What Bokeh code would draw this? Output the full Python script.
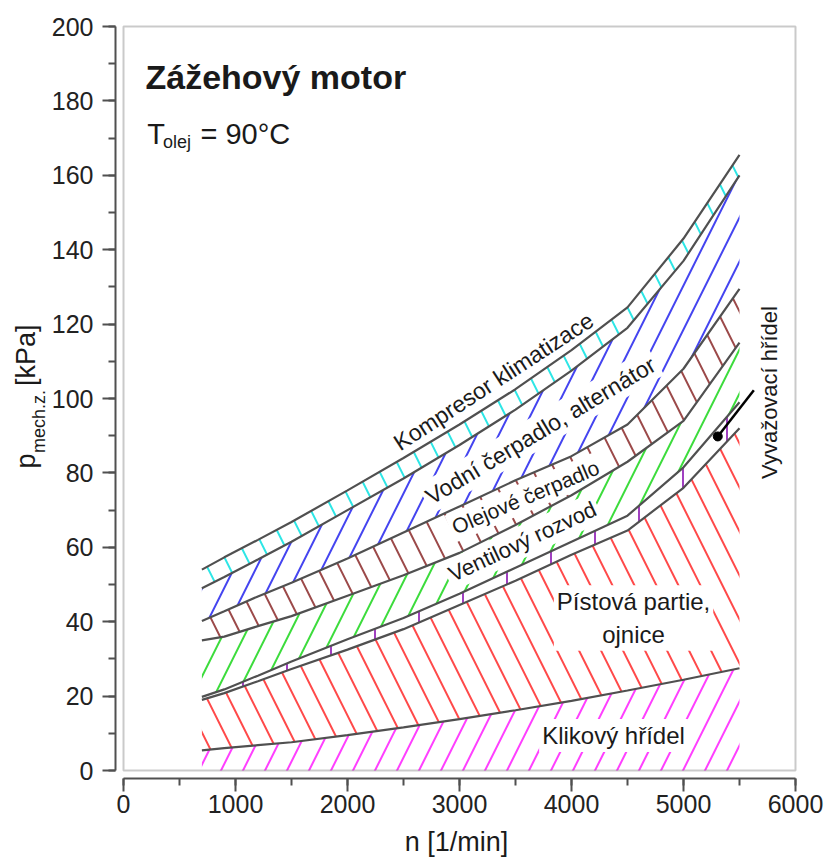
import math
from bokeh.plotting import figure
from bokeh.models import Range1d, Label, BoxAnnotation, SingleIntervalTicker, Title
from bokeh.embed import file_html
from bokeh.resources import INLINE

# ---- data ----
rpm = [700, 900, 1200, 1500, 2000, 2500, 3000, 3500, 4000, 4500, 5000, 5500]
zero_line = [0.0] * len(rpm)
klikovy_hridel = [5.4, 6.0, 6.8, 7.6, 9.5, 11.6, 13.8, 16.2, 18.7, 21.5, 24.4, 27.5]
pistova_partie = [19.0, 20.8, 24.0, 27.3, 32.5, 38.0, 44.5, 51.0, 58.0, 64.5, 76.0, 92.0]
vyvazovaci_hridel = [19.8, 21.8, 25.5, 29.3, 35.3, 41.0, 47.5, 54.5, 61.5, 68.5, 81.5, 99.0]
ventilovy_rozvod = [35.0, 36.0, 38.8, 41.5, 47.0, 52.5, 58.5, 66.0, 74.0, 83.0, 94.0, 115.0]
olejove_cerpadlo = [40.2, 42.8, 46.8, 50.5, 57.0, 64.0, 71.0, 78.0, 84.5, 93.0, 108.0, 129.5]
vodni_cerpadlo = [49.0, 52.0, 56.7, 61.5, 70.0, 78.5, 87.5, 97.0, 107.5, 119.0, 137.0, 160.0]
kompresor = [54.0, 57.3, 62.0, 66.8, 75.3, 84.0, 93.0, 102.5, 113.0, 124.5, 143.0, 165.5]

leader_x = [5306, 5628]
leader_y = [89.8, 102.2]

x_ticks_interval = 1000
y_ticks_interval = 20

FONT = "Liberation Sans"
LINE = "#505050"
TXT = "#1a1a1a"
NB = "\u00a0"

p = figure(width=824, height=859,
           x_range=Range1d(-71.4, 6017.9), y_range=Range1d(-2.15, 200.54),
           output_backend="svg", toolbar_location=None,
           min_border_left=115, min_border_right=27,
           min_border_top=24, min_border_bottom=81)
p.outline_line_color = None
p.grid.visible = False
p.background_fill_color = "white"

# axes
p.xaxis.bounds = (0, 6000)
p.yaxis.bounds = (0, 200)
p.xaxis.ticker = SingleIntervalTicker(interval=x_ticks_interval, num_minor_ticks=2)
p.yaxis.ticker = SingleIntervalTicker(interval=y_ticks_interval, num_minor_ticks=2)
for ax in (p.xaxis, p.yaxis):
    ax.axis_line_color = LINE
    ax.axis_line_width = 2
    ax.major_tick_line_color = LINE
    ax.major_tick_line_width = 2
    ax.minor_tick_line_color = LINE
    ax.minor_tick_line_width = 2
    ax.major_tick_in = 0
    ax.minor_tick_in = 0
    ax.major_tick_out = 13
    ax.minor_tick_out = 7
    ax.major_label_text_font = FONT
    ax.major_label_text_font_size = "25px"
    ax.major_label_text_color = "#222222"
    ax.axis_label_text_font = FONT
    ax.axis_label_text_font_style = "normal"
    ax.axis_label_text_color = TXT
p.xaxis.major_label_standoff = 3
p.yaxis.major_label_standoff = 9

p.xaxis.axis_label = "n [1/min]"
p.xaxis.axis_label_text_font_size = "27px"
p.xaxis.axis_label_standoff = 11

# y axis label: "p" + subscript "mech.z." + " [kPa]"
p.yaxis.axis_label = "mech.z." + NB * 8
p.yaxis.axis_label_text_font_size = "18px"
p.yaxis.axis_label_standoff = 0

main_title = Title(text="p" + NB * 9 + "[kPa]", align="left", offset=310,
                   standoff=-31, text_font=FONT, text_font_size="27px",
                   text_font_style="normal", text_color=TXT)
p.add_layout(main_title, "left")

# plot box
p.add_layout(BoxAnnotation(left=0, right=6000, bottom=0, top=200,
                           fill_alpha=0, line_color=LINE, line_width=2))

# hatched bands
bands = [
    (zero_line, klikovy_hridel, "#ff40ff", "/"),
    (klikovy_hridel, pistova_partie, "#ff4a4a", "\\"),
    (pistova_partie, vyvazovaci_hridel, "#a040c0", "|"),
    (vyvazovaci_hridel, ventilovy_rozvod, "#3ddc3d", "/"),
    (ventilovy_rozvod, olejove_cerpadlo, "#9c4a4a", "\\"),
    (olejove_cerpadlo, vodni_cerpadlo, "#4545f0", "/"),
    (vodni_cerpadlo, kompresor, "#2ee6e6", "\\"),
]
for lo, hi, col, pat in bands:
    p.varea(x=rpm, y1=lo, y2=hi, fill_alpha=0,
            hatch_pattern=pat, hatch_color=col, hatch_scale=44, hatch_weight=2)


def lab(x, y, text, size, angle=0, align="center", baseline="middle",
        bold=False, bg=False):
    l = Label(x=x, y=y, text=text, text_font=FONT,
              text_font_size=f"{size}px", text_color=TXT,
              angle=math.radians(angle), text_align=align,
              text_baseline=baseline,
              text_font_style="bold" if bold else "normal")
    if bg:
        l.background_fill_color = "white"
        l.padding = 3
    p.add_layout(l)


# labels of regions
lab(3304, 104.6, "Kompresor klimatizace", 23, angle=33)
lab(3723, 91.4, "Vodní čerpadlo, alternátor", 23, angle=31, bg=True)
lab(3589, 73.5, "Olejové čerpadlo", 21, angle=23, bg=True)
lab(3562, 61.5, "Ventilový rozvod", 22, angle=25, bg=True)
lab(4554, 41.0, "Pístová partie,\nojnice", 24, bg=True)
lab(4375, 9.4, "Klikový hřídel", 24, bg=True)
lab(5768, 101.6, "Vyvažovací hřídel", 22, angle=90)

# title and temperature
lab(196, 186.3, "Zážehový motor", 34, align="left", baseline="alphabetic", bold=True)
lab(212, 171.2, "T", 29, align="left", baseline="alphabetic")
lab(352, 168.9, "olej", 18, align="left", baseline="alphabetic")
lab(687, 171.2, "= 90°C", 29, align="left", baseline="alphabetic")

# boundary lines on top
for ys in (klikovy_hridel, pistova_partie, vyvazovaci_hridel, ventilovy_rozvod,
           olejove_cerpadlo, vodni_cerpadlo, kompresor):
    p.line(x=rpm, y=ys, line_color=LINE, line_width=2.2, level="overlay")

p.line(x=leader_x, y=leader_y, line_color="black", line_width=2.5, level="overlay")
p.scatter(x=leader_x[:1], y=leader_y[:1], size=9, color="black", level="overlay")

open("out.html", "w").write(file_html(p, INLINE))
